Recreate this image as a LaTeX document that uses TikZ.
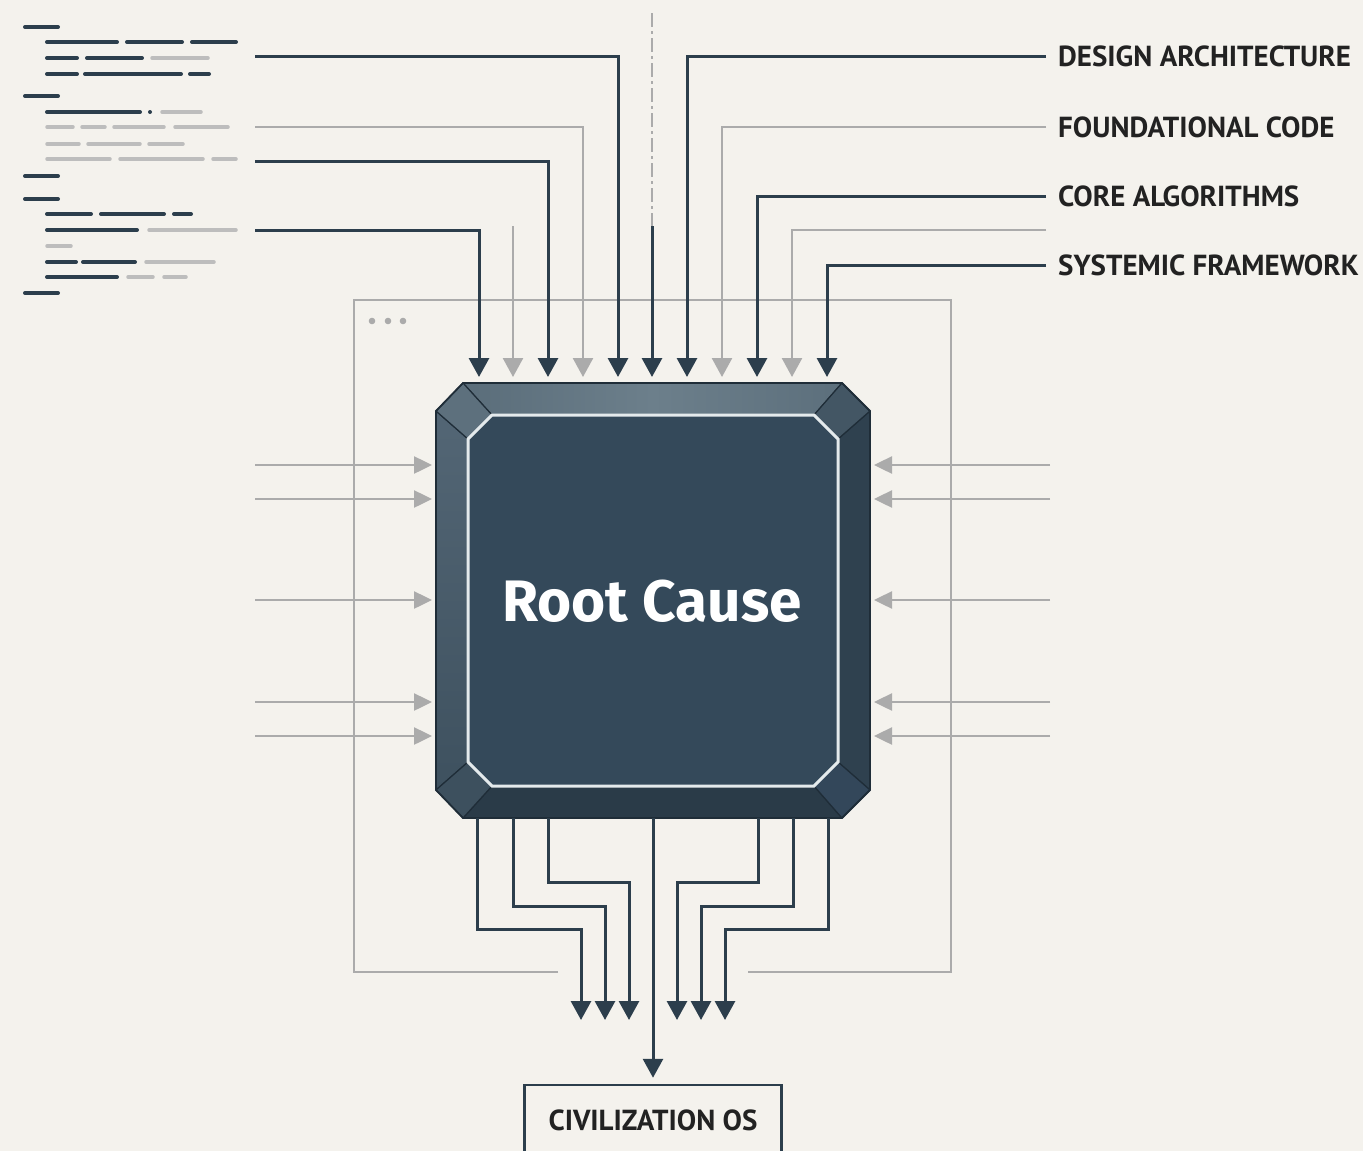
\documentclass[tikz,border=0pt]{standalone}
\usepackage{fontspec}
\usetikzlibrary{arrows.meta}
\newfontfamily\lblfont{PT Sans}
\newfontfamily\chipfont{Fira Sans}

\definecolor{bgcol}{HTML}{F4F2ED}
\definecolor{wire}{HTML}{2C3E4C}
\definecolor{pale}{HTML}{ABABAB}
\definecolor{codepale}{HTML}{BDBDBD}
\definecolor{framecol}{HTML}{ABABAB}
\definecolor{chipface}{HTML}{34495A}
\definecolor{chipedge}{HTML}{1F2D38}
\definecolor{chipline}{HTML}{E4EAEC}
\definecolor{inkcol}{HTML}{222222}
\definecolor{topside}{HTML}{5A6D7A}
\definecolor{topmid}{HTML}{6C7F8B}
\definecolor{topright}{HTML}{5C6F7C}
\definecolor{leftup}{HTML}{536675}
\definecolor{leftdown}{HTML}{3E515F}
\definecolor{rightside}{HTML}{2F414F}
\definecolor{bottomside}{HTML}{2A3B48}
\definecolor{cornertl}{HTML}{5D707D}
\definecolor{cornertr}{HTML}{435664}
\definecolor{cornerbl}{HTML}{3D505E}
\definecolor{cornerbr}{HTML}{33475A}

\tikzset{
  darkwire/.style={draw=wire, line width=3pt},
  palewire/.style={draw=pale, line width=2.5pt},
  downtip/.style={-{Triangle[width=20pt,length=19pt]}},
  sidetip/.style={-{Triangle[width=17pt,length=18pt]}},
  codedark/.style={wire, line width=4pt, line cap=round},
  codegray/.style={codepale, line width=3.5pt, line cap=round},
  tagtext/.style={anchor=west, inner xsep=12pt, inner ysep=0pt, text=inkcol,
    font=\lblfont\bfseries\fontsize{29}{32}\selectfont},
  facet/.style={draw=chipedge, line width=1.2pt, line join=round}
}

\begin{document}
\begin{tikzpicture}[x=1pt,y=-1pt]
\useasboundingbox (0,0) rectangle (1363,1151);
\fill[bgcol] (0,0) rectangle (1363,1151);

% code listing
\foreach \y/\a/\b in {27/23/60, 42/45/119, 42/125/184, 42/190/238, 58/45/79, 58/85/144,
  74/45/79, 74/83/183, 74/188/211, 96/23/60, 112/45/142, 112/148/152, 176/23/60,
  199/23/60, 214/45/93, 214/99/166, 214/172/193, 230/45/139, 262/45/78, 262/81/137,
  277/45/119, 293/23/60}
  \draw[codedark] (\a+2,\y) -- (\b-2,\y);
\foreach \y/\a/\b in {58/150/210, 112/160/203, 127/45/75, 127/80/107, 127/112/166,
  127/173/230, 144/45/81, 144/86/142, 144/147/185, 159/45/112, 159/118/205,
  159/211/238, 230/147/238, 246/45/73, 262/144/216, 277/126/155, 277/162/188}
  \draw[codegray] (\a+2,\y) -- (\b-2,\y);

% frame
\draw[framecol, line width=1.8pt] (558,972) -| (354,300) -| (951,972) -- (748,972);
\foreach \x in {372,388,403}
  \fill[framecol] (\x,321) circle (3.3pt);

% labels
\node[tagtext] (design) at (1046,56) {DESIGN ARCHITECTURE};
\node[tagtext] (found) at (1046,127) {FOUNDATIONAL CODE};
\node[tagtext] (core) at (1046,196) {CORE ALGORITHMS};
\node[tagtext] (syst) at (1046,265) {SYSTEMIC FRAMEWORK};

% pins on top of the chip
\foreach \i/\x in {1/479,2/513,3/548,4/583,5/618,6/652,7/687,8/722,9/757,10/792,11/827}
  \coordinate (pin\i) at (\x,377);
\coordinate (src1) at (255,56);
\coordinate (src2) at (255,127);
\coordinate (src3) at (255,161);
\coordinate (src4) at (255,230);
\coordinate (src5) at (513,226);
\coordinate (src6) at (1046,230);
\coordinate (axtop) at (652,13);
\coordinate (axmid) at (652,226);

\draw[darkwire,downtip] (src1) -| (pin5);
\draw[palewire,downtip] (src2) -| (pin4);
\draw[darkwire,downtip] (src3) -| (pin3);
\draw[darkwire,downtip] (src4) -| (pin1);
\draw[palewire,downtip] (src5) -- (pin2);
\draw[pale, line width=2pt, dash pattern=on 14pt off 4pt on 3pt off 4pt] (axtop) -- (axmid);
\draw[darkwire,downtip] (axmid) -- (pin6);
\draw[darkwire,downtip] (design.west) -| (pin7);
\draw[palewire,downtip] (found.west) -| (pin8);
\draw[darkwire,downtip] (core.west) -| (pin9);
\draw[palewire,downtip] (src6) -| (pin10);
\draw[darkwire,downtip] (syst.west) -| (pin11);

% side inputs
\foreach \y in {465,499,600,702,736} {
  \coordinate (inl) at (432,\y);
  \coordinate (inr) at (874,\y);
  \draw[palewire,sidetip] (255,\y) -- (inl);
  \draw[palewire,sidetip] (1050,\y) -- (inr);
}

% chip body
\fill[chipface] (463,383) -- (842,383) -- (870,411) -- (870,790) -- (842,818)
  -- (463,818) -- (436,790) -- (436,411) -- cycle;
\path[facet, left color=topside, right color=topright, middle color=topmid]
  (463,383) -- (842,383) -- (814,415) -- (492,415) -- cycle;
\path[facet, top color=leftup, bottom color=leftdown]
  (436,411) -- (468,439) -- (468,762) -- (436,790) -- cycle;
\path[facet, fill=rightside] (870,411) -- (870,790) -- (838,762) -- (838,439) -- cycle;
\path[facet, fill=bottomside] (463,818) -- (842,818) -- (814,786) -- (492,786) -- cycle;
\path[facet, fill=cornertl] (436,411) -- (463,383) -- (492,415) -- (468,439) -- cycle;
\path[facet, fill=cornertr] (842,383) -- (870,411) -- (838,439) -- (814,415) -- cycle;
\path[facet, fill=cornerbl] (436,790) -- (463,818) -- (492,786) -- (468,762) -- cycle;
\path[facet, fill=cornerbr] (870,790) -- (842,818) -- (814,786) -- (838,762) -- cycle;
\draw[chipedge, line width=1.8pt, line join=round] (463,383) -- (842,383) -- (870,411)
  -- (870,790) -- (842,818) -- (463,818) -- (436,790) -- (436,411) -- cycle;
\draw[chipline, fill=chipface, line width=3pt] (492,415) -- (814,415) -- (838,439)
  -- (838,762) -- (814,786) -- (492,786) -- (468,762) -- (468,439) -- cycle;
\node[text=white, font=\chipfont\bfseries\fontsize{58.5}{62}\selectfont] (chip) at (652,601) {Root Cause};

% outputs
\node[draw=wire, line width=2.5pt, minimum width=257pt, minimum height=70pt, text=inkcol,
  font=\lblfont\bfseries\fontsize{29}{32}\selectfont] (os) at (653,1120) {CIVILIZATION OS};
\coordinate (out1) at (477,818);
\coordinate (out2) at (513,818);
\coordinate (out3) at (548,818);
\coordinate (out4) at (653,818);
\coordinate (out5) at (758,818);
\coordinate (out6) at (793,818);
\coordinate (out7) at (828,818);
\draw[darkwire,downtip] (out1) |- (581,929) -- (581,1020);
\draw[darkwire,downtip] (out2) |- (605,906) -- (605,1020);
\draw[darkwire,downtip] (out3) |- (629,882) -- (629,1020);
\draw[darkwire,downtip] (out5) |- (677,882) -- (677,1020);
\draw[darkwire,downtip] (out6) |- (701,906) -- (701,1020);
\draw[darkwire,downtip] (out7) |- (725,929) -- (725,1020);
\draw[darkwire,downtip,shorten >=6pt] (out4) -- (os.north);
\end{tikzpicture}
\end{document}
